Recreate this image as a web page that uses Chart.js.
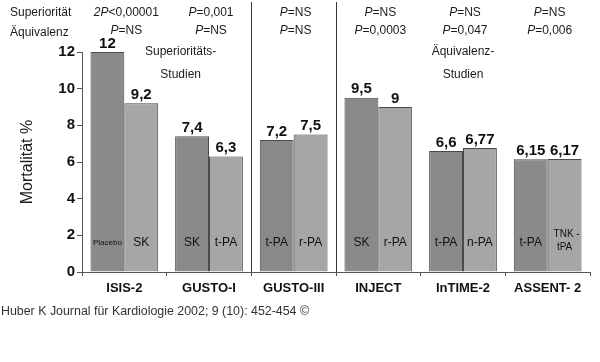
<!DOCTYPE html>
<html>
<head>
<meta charset="utf-8">
<script src="https://cdn.jsdelivr.net/npm/chart.js@4"></script>
<style>
  html, body { margin: 0; padding: 0; background: #fff; }
  #wrap { width: 600px; height: 362px; position: relative; }
</style>
</head>
<body>
<div id="wrap"><canvas id="mortChart"></canvas></div>
<script>
// data
const categories = ['ISIS-2', 'GUSTO-I', 'GUSTO-III', 'INJECT', 'InTIME-2', 'ASSENT- 2'];
const controlValues = [12, 7.4, 7.2, 9.5, 6.6, 6.15];
const testValues = [9.2, 6.3, 7.5, 9, 6.77, 6.17];
const controlNames = ['Placebo', 'SK', 't-PA', 'SK', 't-PA', 't-PA'];
const testNames = ['SK', 't-PA', 'r-PA', 'r-PA', 'n-PA', 'TNK -\ntPA'];
const superiorityP = ['2P<0,00001', 'P=0,001', 'P=NS', 'P=NS', 'P=NS', 'P=NS'];
const equivalenceP = ['P=NS', 'P=NS', 'P=NS', 'P=0,0003', 'P=0,047', 'P=0,006'];
const yTicks = [0, 2, 4, 6, 8, 10, 12];

const FONT = '"Liberation Sans", Arial, sans-serif';

// draws "2P<..." with the part up to P in italics, centred on x
function drawPText(ctx, text, x, y) {
    const cut = text.indexOf('P') + 1;
    const a = text.slice(0, cut), b = text.slice(cut);
    ctx.font = 'italic 12px ' + FONT;
    const wa = ctx.measureText(a).width;
    ctx.font = '12px ' + FONT;
    const wb = ctx.measureText(b).width;
    let left = x - (wa + wb) / 2;
    ctx.textAlign = 'left';
    ctx.font = 'italic 12px ' + FONT;
    ctx.fillText(a, left, y);
    ctx.font = '12px ' + FONT;
    ctx.fillText(b, left + wa, y);
}

const annotations = {
    id: 'annotations',
    afterDatasetsDraw(chart) {
        const { ctx, chartArea, scales } = chart;
        const xs = scales.x;
        ctx.save();
        ctx.fillStyle = '#1a1a1a';
        ctx.textBaseline = 'middle';

        // separators between superiority and equivalence groups
        ctx.strokeStyle = '#333';
        ctx.lineWidth = 1;
        [1.5, 2.5].forEach(v => {
            const px = Math.round(xs.getPixelForValue(v)) + 0.5;
            ctx.beginPath();
            ctx.moveTo(px, 2);
            ctx.lineTo(px, chartArea.bottom);
            ctx.stroke();
        });

        // header rows
        ctx.font = '12px ' + FONT;
        ctx.textAlign = 'left';
        ctx.fillText('Superiorität', 10, 13);
        ctx.fillText('Äquivalenz', 10, 33);
        categories.forEach((c, i) => {
            const cx = xs.getPixelForValue(i) + 2;
            drawPText(ctx, superiorityP[i], cx, 13);
            drawPText(ctx, equivalenceP[i], cx, 31);
        });

        ctx.font = '12px ' + FONT;
        ctx.textAlign = 'center';
        const supX = xs.getPixelForValue(0.5) + 14;
        ctx.fillText('Superioritäts-', supX, 52);
        ctx.fillText('Studien', supX, 75);
        const eqX = xs.getPixelForValue(4);
        ctx.fillText('Äquivalenz-', eqX, 52);
        ctx.fillText('Studien', eqX, 75);

        // values on top of bars and names inside bars
        const names = [controlNames, testNames];
        chart.data.datasets.forEach((ds, di) => {
            chart.getDatasetMeta(di).data.forEach((bar, i) => {
                ctx.fillStyle = '#111';
                ctx.font = 'bold 15px ' + FONT;
                ctx.textAlign = 'center';
                ctx.textBaseline = 'bottom';
                ctx.fillText(String(ds.data[i]).replace('.', ','), bar.x, bar.y - 1);

                ctx.textBaseline = 'middle';
                const label = names[di][i];
                const yLab = chartArea.bottom - 29;
                if (label === 'Placebo') {
                    ctx.font = '8px ' + FONT;
                    ctx.fillText(label, bar.x, yLab);
                } else if (label.indexOf('\n') >= 0) {
                    ctx.font = '10px ' + FONT;
                    const parts = label.split('\n');
                    ctx.fillText(parts[0], bar.x + 2, yLab - 9);
                    ctx.fillText(parts[1], bar.x, yLab + 4);
                } else {
                    ctx.font = '12px ' + FONT;
                    ctx.fillText(label, bar.x, yLab);
                }
            });
        });

        // y axis title
        ctx.save();
        ctx.translate(28, (chartArea.top + chartArea.bottom) / 2);
        ctx.rotate(-Math.PI / 2);
        ctx.font = '16px ' + FONT;
        ctx.fillStyle = '#1a1a1a';
        ctx.textAlign = 'center';
        ctx.textBaseline = 'middle';
        ctx.fillText('Mortalität %', 0, 0);
        ctx.restore();

        // source line
        ctx.font = '12.4px ' + FONT;
        ctx.fillStyle = '#333';
        ctx.textAlign = 'left';
        ctx.textBaseline = 'middle';
        ctx.fillText('Huber K Journal für Kardiologie 2002; 9 (10): 452-454 ©', 1, 312);
        ctx.restore();
    }
};

new Chart(document.getElementById('mortChart'), {
    type: 'bar',
    data: {
        labels: categories,
        datasets: [
            {
                label: 'Kontrolle',
                data: controlValues,
                backgroundColor: '#8a8a8a',
                borderColor: '#4a4a4a',
                borderWidth: 1,
                barPercentage: 1.0,
                categoryPercentage: 0.8
            },
            {
                label: 'Test',
                data: testValues,
                backgroundColor: '#a6a6a6',
                borderColor: '#4a4a4a',
                borderWidth: 1,
                barPercentage: 1.0,
                categoryPercentage: 0.8
            }
        ]
    },
    plugins: [annotations],
    options: {
        responsive: true,
        maintainAspectRatio: false,
        animation: false,
        layout: {
            padding: { top: 52, right: 10, bottom: 70, left: 0 }
        },
        scales: {
            x: {
                offset: true,
                afterFit: (s) => { s.height = 20; },
                grid: {
                    offset: true,
                    drawOnChartArea: false,
                    tickLength: 4,
                    color: '#555'
                },
                border: { color: '#555', width: 1 },
                ticks: {
                    color: '#111',
                    padding: 5,
                    font: { family: FONT, size: 13, weight: 'bold' }
                }
            },
            y: {
                min: 0,
                max: 12,
                afterFit: (s) => { s.width = 82; },
                afterBuildTicks: (s) => { s.ticks = yTicks.map(v => ({ value: v })); },
                grid: {
                    drawOnChartArea: false,
                    tickLength: 5,
                    color: '#555'
                },
                border: { color: '#555', width: 1 },
                ticks: {
                    color: '#111',
                    padding: 2,
                    font: { family: FONT, size: 15, weight: 'bold' }
                }
            }
        },
        plugins: {
            legend: { display: false },
            tooltip: { enabled: false }
        }
    }
});
</script>
</body>
</html>
